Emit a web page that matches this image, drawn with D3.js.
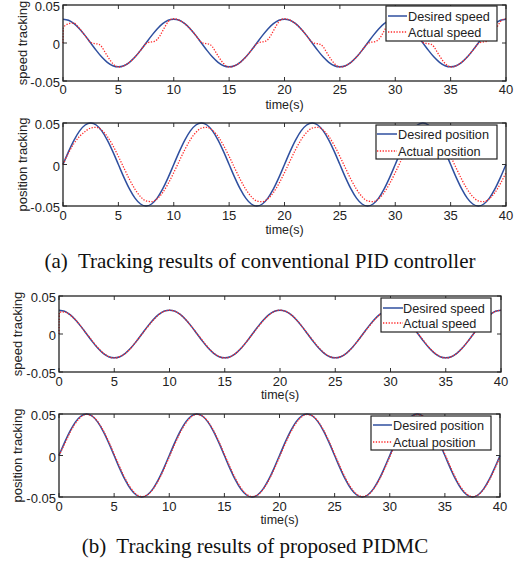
<!DOCTYPE html>
<html>
<head>
<meta charset="utf-8">
<script src="https://cdn.jsdelivr.net/npm/d3@7"></script>
<style>
  body { margin: 0; background: #fff; }
  svg { display: block; }
  text { font-family: "Liberation Sans", Arial, sans-serif; fill: #222; }
  .caption { font-family: "Liberation Serif", "Times New Roman", serif; fill: #111; white-space: pre; }
</style>
</head>
<body>
<svg id="chart" width="519" height="570"></svg>
<script>
// x ticks / y ticks shared by all four plots
const xTicks = [0, 5, 10, 15, 20, 25, 30, 35, 40]
const yTicks = [-0.05, 0, 0.05]
const yTickLabels = [`-0.05`, `0`, `0.05`]

// sample times (s)
const tCoarse = d3.range(0, 40.001, 0.5)
const tSpeedA = [0, 0.04].concat(d3.range(0.25, 40.001, 0.25))
const tSpeedB = [0, 0.04].concat(d3.range(0.5, 40.001, 0.5))

// desired references (same in (a) and (b))
const desiredSpeed = [
    0.0314, 0.0299, 0.0254, 0.0185, 0.0097, 0, -0.0097, -0.0185, -0.0254, -0.0299,
    -0.0314, -0.0299, -0.0254, -0.0185, -0.0097, 0, 0.0097, 0.0185, 0.0254, 0.0299,
    0.0314, 0.0299, 0.0254, 0.0185, 0.0097, 0, -0.0097, -0.0185, -0.0254, -0.0299,
    -0.0314, -0.0299, -0.0254, -0.0185, -0.0097, 0, 0.0097, 0.0185, 0.0254, 0.0299,
    0.0314, 0.0299, 0.0254, 0.0185, 0.0097, 0, -0.0097, -0.0185, -0.0254, -0.0299,
    -0.0314, -0.0299, -0.0254, -0.0185, -0.0097, 0, 0.0097, 0.0185, 0.0254, 0.0299,
    0.0314, 0.0299, 0.0254, 0.0185, 0.0097, 0, -0.0097, -0.0185, -0.0254, -0.0299,
    -0.0314, -0.0299, -0.0254, -0.0185, -0.0097, 0, 0.0097, 0.0185, 0.0254, 0.0299,
    0.0314
]

const desiredPosition = [
    0, 0.0155, 0.0294, 0.0405, 0.0476, 0.05, 0.0476, 0.0405, 0.0294, 0.0155,
    0, -0.0155, -0.0294, -0.0405, -0.0476, -0.05, -0.0476, -0.0405, -0.0294, -0.0155,
    0, 0.0155, 0.0294, 0.0405, 0.0476, 0.05, 0.0476, 0.0405, 0.0294, 0.0155,
    0, -0.0155, -0.0294, -0.0405, -0.0476, -0.05, -0.0476, -0.0405, -0.0294, -0.0155,
    0, 0.0155, 0.0294, 0.0405, 0.0476, 0.05, 0.0476, 0.0405, 0.0294, 0.0155,
    0, -0.0155, -0.0294, -0.0405, -0.0476, -0.05, -0.0476, -0.0405, -0.0294, -0.0155,
    0, 0.0155, 0.0294, 0.0405, 0.0476, 0.05, 0.0476, 0.0405, 0.0294, 0.0155,
    0, -0.0155, -0.0294, -0.0405, -0.0476, -0.05, -0.0476, -0.0405, -0.0294, -0.0155,
    0
]

// (a) conventional PID, speed on tSpeedA
const actualSpeedA = [
    0, 0.0200, 0.0235, 0.0252, 0.0262, 0.0262, 0.0230, 0.0188, 0.0143, 0.0097, 0.0048,
    0.0008, -0.0004, -0.0010, -0.0018, -0.0050, -0.0110, -0.0170, -0.0225, -0.0270, -0.0302,
    -0.0316, -0.0312, -0.0300, -0.0280, -0.0254, -0.0222, -0.0185, -0.0143, -0.0097, -0.0050,
    -0.0008, 0.0008, 0.0014, 0.0022, 0.0045, 0.0095, 0.0160, 0.0225, 0.0282, 0.0312,
    0.0319, 0.0313, 0.0300, 0.0280, 0.0254, 0.0222, 0.0185, 0.0143, 0.0097, 0.0048,
    0.0008, -0.0004, -0.0010, -0.0018, -0.0050, -0.0110, -0.0170, -0.0225, -0.0270, -0.0302,
    -0.0316, -0.0312, -0.0300, -0.0280, -0.0254, -0.0222, -0.0185, -0.0143, -0.0097, -0.0050,
    -0.0008, 0.0008, 0.0014, 0.0022, 0.0045, 0.0095, 0.0160, 0.0225, 0.0282, 0.0312,
    0.0319, 0.0313, 0.0300, 0.0280, 0.0254, 0.0222, 0.0185, 0.0143, 0.0097, 0.0048,
    0.0008, -0.0004, -0.0010, -0.0018, -0.0050, -0.0110, -0.0170, -0.0225, -0.0270, -0.0302,
    -0.0316, -0.0312, -0.0300, -0.0280, -0.0254, -0.0222, -0.0185, -0.0143, -0.0097, -0.0050,
    -0.0008, 0.0008, 0.0014, 0.0022, 0.0045, 0.0095, 0.0160, 0.0225, 0.0282, 0.0312,
    0.0319, 0.0313, 0.0300, 0.0280, 0.0254, 0.0222, 0.0185, 0.0143, 0.0097, 0.0048,
    0.0008, -0.0004, -0.0010, -0.0018, -0.0050, -0.0110, -0.0170, -0.0225, -0.0270, -0.0302,
    -0.0316, -0.0312, -0.0300, -0.0280, -0.0254, -0.0222, -0.0185, -0.0143, -0.0097, -0.0050,
    -0.0008, 0.0008, 0.0014, 0.0022, 0.0045, 0.0095, 0.0160, 0.0225, 0.0282, 0.0312,
    0.0319
]

// (a) conventional PID, position on tCoarse
const actualPositionA = [
    0, 0.0140, 0.0255, 0.0340, 0.0398,
    0.0439, 0.0448, 0.0413, 0.0338, 0.0229, 0.0098, -0.0042, -0.0179, -0.0298, -0.0387,
    -0.0439, -0.0448, -0.0413, -0.0338, -0.0229, -0.0098, 0.0042, 0.0179, 0.0298, 0.0387,
    0.0439, 0.0448, 0.0413, 0.0338, 0.0229, 0.0098, -0.0042, -0.0179, -0.0298, -0.0387,
    -0.0439, -0.0448, -0.0413, -0.0338, -0.0229, -0.0098, 0.0042, 0.0179, 0.0298, 0.0387,
    0.0439, 0.0448, 0.0413, 0.0338, 0.0229, 0.0098, -0.0042, -0.0179, -0.0298, -0.0387,
    -0.0439, -0.0448, -0.0413, -0.0338, -0.0229, -0.0098, 0.0042, 0.0179, 0.0298, 0.0387,
    0.0439, 0.0448, 0.0413, 0.0338, 0.0229, 0.0098, -0.0042, -0.0179, -0.0298, -0.0387,
    -0.0439, -0.0448, -0.0413, -0.0338, -0.0229, -0.0098
]

// (b) proposed PIDMC, speed on tSpeedB
const actualSpeedB = [
    0, 0.0288, 0.0290, 0.0250, 0.0185, 0.0097, 0.0002,
    -0.0088, -0.0178, -0.0250, -0.0297, -0.0314, -0.0299, -0.0254, -0.0185, -0.0097, -0.0002,
    0.0089, 0.0178, 0.0250, 0.0297, 0.0314, 0.0299, 0.0254, 0.0185, 0.0097, 0.0002,
    -0.0088, -0.0178, -0.0250, -0.0297, -0.0314, -0.0299, -0.0254, -0.0185, -0.0097, -0.0002,
    0.0089, 0.0178, 0.0250, 0.0297, 0.0314, 0.0299, 0.0254, 0.0185, 0.0097, 0.0002,
    -0.0088, -0.0178, -0.0250, -0.0297, -0.0314, -0.0299, -0.0254, -0.0185, -0.0097, -0.0002,
    0.0089, 0.0178, 0.0250, 0.0297, 0.0314, 0.0299, 0.0254, 0.0185, 0.0097, 0.0002,
    -0.0088, -0.0178, -0.0250, -0.0297, -0.0314, -0.0299, -0.0254, -0.0185, -0.0097, -0.0002,
    0.0089, 0.0178, 0.0250, 0.0297, 0.0314
]

// (b) proposed PIDMC, position on tCoarse
const actualPositionB = [
    0,
    0.0136, 0.0277, 0.0390, 0.0465, 0.0495, 0.0476, 0.0410, 0.0305, 0.0169, 0.0017,
    -0.0136, -0.0277, -0.0390, -0.0465, -0.0495, -0.0476, -0.0410, -0.0305, -0.0169, -0.0017,
    0.0136, 0.0277, 0.0390, 0.0465, 0.0495, 0.0476, 0.0410, 0.0305, 0.0169, 0.0017,
    -0.0136, -0.0277, -0.0390, -0.0465, -0.0495, -0.0476, -0.0410, -0.0305, -0.0169, -0.0017,
    0.0136, 0.0277, 0.0390, 0.0465, 0.0495, 0.0476, 0.0410, 0.0305, 0.0169, 0.0017,
    -0.0136, -0.0277, -0.0390, -0.0465, -0.0495, -0.0476, -0.0410, -0.0305, -0.0169, -0.0017,
    0.0136, 0.0277, 0.0390, 0.0465, 0.0495, 0.0476, 0.0410, 0.0305, 0.0169, 0.0017,
    -0.0136, -0.0277, -0.0390, -0.0465, -0.0495, -0.0476, -0.0410, -0.0305, -0.0169, -0.0017
]

const speedNames = [`Desired speed`, `Actual speed`]
const positionNames = [`Desired position`, `Actual position`]
const captions = [`(a)  Tracking results of conventional PID controller`, `(b)  Tracking results of proposed PIDMC`]

const blue = `#2f4f9f`, red = `#ff2a2a`

const panels = [
    { box: [63, 506, 5, 81], ylab: `speed tracking`, ylabX: 22, tickY: 93.5, timeY: 108.5,
      desired: desiredSpeed, tDes: tCoarse, actual: actualSpeedA, tAct: tSpeedA, names: speedNames,
      legend: { x: 386, y: 6, w: 111, h: 35, rows: [16, 32], sx: [388, 407], tx: 408 } },
    { box: [63, 506, 123, 206], ylab: `position tracking`, ylabX: 22, tickY: 220, timeY: 233.5,
      desired: desiredPosition, tDes: tCoarse, actual: actualPositionA, tAct: tCoarse, names: positionNames,
      legend: { x: 376, y: 125, w: 121, h: 34, rows: [134, 151], sx: [377, 397], tx: 398 } },
    { box: [59, 501, 296, 372], ylab: `speed tracking`, ylabX: 17, tickY: 386, timeY: 399,
      desired: desiredSpeed, tDes: tCoarse, actual: actualSpeedB, tAct: tSpeedB, names: speedNames,
      legend: { x: 381, y: 298, w: 110, h: 34, rows: [308, 323], sx: [383, 403], tx: 403 } },
    { box: [59, 500, 414, 497], ylab: `position tracking`, ylabX: 17, tickY: 511, timeY: 524,
      desired: desiredPosition, tDes: tCoarse, actual: actualPositionB, tAct: tCoarse, names: positionNames,
      legend: { x: 371, y: 416, w: 120, h: 34, rows: [425, 442], sx: [373, 392], tx: 393 } }
]

const svg = d3.select(`#chart`)

panels.forEach(p => {
    const [x0, x1, y0, y1] = p.box
    const x = d3.scaleLinear().domain([0, 40]).range([x0, x1])
    const y = d3.scaleLinear().domain([-0.05, 0.05]).range([y1, y0])
    const g = svg.append(`g`)

    const line = t => d3.line().x((d, i) => x(t[i])).y(d => y(d)).curve(d3.curveMonotoneX)

    g.append(`path`).attr(`d`, line(p.tDes)(p.desired))
        .attr(`fill`, `none`).attr(`stroke`, blue).attr(`stroke-width`, 1.5)
    g.append(`path`).attr(`d`, line(p.tAct)(p.actual))
        .attr(`fill`, `none`).attr(`stroke`, red).attr(`stroke-width`, 1.3).attr(`stroke-dasharray`, `1.3,1.5`)

    // inward ticks on all four sides
    const tl = 4
    xTicks.forEach(v => {
        g.append(`line`).attr(`x1`, x(v)).attr(`x2`, x(v)).attr(`y1`, y1).attr(`y2`, y1 - tl).attr(`stroke`, `#333`)
        g.append(`line`).attr(`x1`, x(v)).attr(`x2`, x(v)).attr(`y1`, y0).attr(`y2`, y0 + tl).attr(`stroke`, `#333`)
        g.append(`text`).attr(`x`, x(v)).attr(`y`, p.tickY).attr(`text-anchor`, `middle`)
            .attr(`font-size`, 13).text(v)
    })
    yTicks.forEach((v, i) => {
        g.append(`line`).attr(`x1`, x0).attr(`x2`, x0 + tl).attr(`y1`, y(v)).attr(`y2`, y(v)).attr(`stroke`, `#333`)
        g.append(`line`).attr(`x1`, x1).attr(`x2`, x1 - tl).attr(`y1`, y(v)).attr(`y2`, y(v)).attr(`stroke`, `#333`)
        g.append(`text`).attr(`x`, x0 - 3).attr(`y`, y(v) + 6).attr(`text-anchor`, `end`)
            .attr(`font-size`, 13).text(yTickLabels[i])
    })

    g.append(`rect`).attr(`x`, x0).attr(`y`, y0).attr(`width`, x1 - x0).attr(`height`, y1 - y0)
        .attr(`fill`, `none`).attr(`stroke`, `#222`).attr(`stroke-width`, 1.3)

    g.append(`text`).attr(`x`, (x0 + x1) / 2).attr(`y`, p.timeY).attr(`text-anchor`, `middle`)
        .attr(`font-size`, 12.5).text(`time(s)`)
    g.append(`text`).attr(`transform`, `translate(${p.ylabX + 4.5},${(y0 + y1) / 2}) rotate(-90)`)
        .attr(`text-anchor`, `middle`).attr(`font-size`, 13).text(p.ylab)

    // legend
    const L = p.legend
    g.append(`rect`).attr(`x`, L.x).attr(`y`, L.y).attr(`width`, L.w).attr(`height`, L.h)
        .attr(`fill`, `#fff`).attr(`stroke`, `#222`).attr(`stroke-width`, 1.2)
    const styles = [[blue, 1.5, null], [red, 1.3, `1.3,1.5`]]
    p.names.forEach((name, i) => {
        g.append(`line`).attr(`x1`, L.sx[0]).attr(`x2`, L.sx[1]).attr(`y1`, L.rows[i]).attr(`y2`, L.rows[i])
            .attr(`stroke`, styles[i][0]).attr(`stroke-width`, styles[i][1]).attr(`stroke-dasharray`, styles[i][2])
        g.append(`text`).attr(`x`, L.tx).attr(`y`, L.rows[i] + 4.6).attr(`font-size`, 12.7).text(name)
    })
})

svg.append(`text`).attr(`class`, `caption`).attr(`x`, 260).attr(`y`, 268).attr(`text-anchor`, `middle`)
    .attr(`font-size`, 21).text(captions[0])
svg.append(`text`).attr(`class`, `caption`).attr(`x`, 255).attr(`y`, 553).attr(`text-anchor`, `middle`)
    .attr(`font-size`, 21).text(captions[1])
</script>
</body>
</html>
